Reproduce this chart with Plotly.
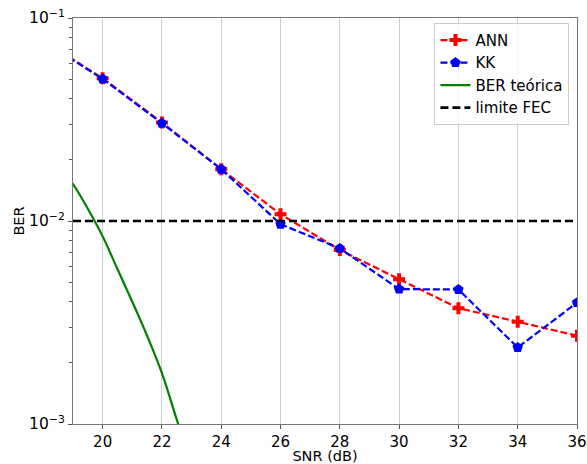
import plotly.graph_objects as go

snr = [18, 20, 22, 24, 26, 28, 30, 32, 34, 36]
ber_ann = [0.077, 0.0505, 0.0306, 0.0180, 0.0108, 0.00720, 0.00517, 0.00372, 0.00319, 0.00272]
ber_kk = [0.077, 0.0501, 0.0303, 0.0180, 0.00964, 0.00733, 0.00462, 0.00460, 0.00238, 0.00396]

snr_theory = [18, 18.5, 19, 19.5, 20, 20.5, 21, 21.5, 22, 22.5, 23, 23.5]
ber_theory = [0.024, 0.019, 0.0152, 0.0115, 0.0084, 0.0058, 0.0040, 0.00272, 0.00178, 0.00105, 0.00062, 0.00034]

fec_limit = 1e-2
x_range = [19, 36]
x_ticks = [20, 22, 24, 26, 28, 30, 32, 34, 36]

font = "DejaVu Sans"

fig = go.Figure()
fig.add_trace(go.Scatter(
    x=snr, y=ber_ann, name="ANN", mode="lines+markers",
    line=dict(color="red", width=2.2, dash="7px,3px"),
    marker=dict(symbol="cross", size=10, color="red"),
))
fig.add_trace(go.Scatter(
    x=snr, y=ber_kk, name="KK", mode="lines+markers",
    line=dict(color="blue", width=2.2, dash="7px,3px"),
    marker=dict(symbol="pentagon", size=11, color="blue"),
))
fig.add_trace(go.Scatter(
    x=snr_theory, y=ber_theory, name="BER teórica", mode="lines",
    line=dict(color="green", width=2.2, shape="spline", smoothing=1.0),
))
fig.add_trace(go.Scatter(
    x=x_range, y=[fec_limit, fec_limit], name="limite FEC", mode="lines",
    line=dict(color="black", width=2.6, dash="8px,4px"),
))

minor_vals = [m * 10.0 ** e for e in (-3, -2) for m in range(2, 10)]

fig.update_layout(
    width=587, height=464,
    margin=dict(l=73, r=10, t=18, b=40),
    paper_bgcolor="white", plot_bgcolor="white",
    font=dict(family=font, size=14, color="black"),
    showlegend=True,
    legend=dict(
        x=0.985, y=0.988, xanchor="right", yanchor="top",
        bordercolor="#cccccc", borderwidth=1, bgcolor="rgba(255,255,255,0.8)",
        font=dict(size=15), tracegroupgap=0, itemwidth=30,
    ),
    xaxis=dict(
        range=x_range, tickvals=x_ticks, ticks="outside", ticklen=4,
        tickcolor="#555", showgrid=True, gridcolor="#cfcfcf", gridwidth=1,
        showline=True, linecolor="#777", linewidth=1.2, mirror=True,
        zeroline=False, automargin=False,
        title=dict(text="SNR (dB)", standoff=6, font=dict(size=14.5)),
        tickfont=dict(size=15),
    ),
    yaxis=dict(
        type="log", range=[-3, -1],
        tickvals=[1e-3, 1e-2, 1e-1],
        ticktext=["10<sup>−3</sup>", "10<sup>−2</sup>", "10<sup>−1</sup>"],
        ticks="outside", ticklen=4, tickcolor="#555",
        showgrid=False, showline=True, linecolor="#777", linewidth=1.2, mirror=True,
        zeroline=False, automargin=False,
        title=dict(text="BER", standoff=0, font=dict(size=14.5)),
        tickfont=dict(size=15.5),
        minor=dict(tickmode="array", tickvals=minor_vals, ticks="outside",
                   ticklen=2.5, tickcolor="#555", showgrid=False),
    ),
)

fig.write_html(
    "out.html",
    config={"displayModeBar": False},
    post_script="document.body.style.margin='0';document.body.style.overflow='hidden';",
)
